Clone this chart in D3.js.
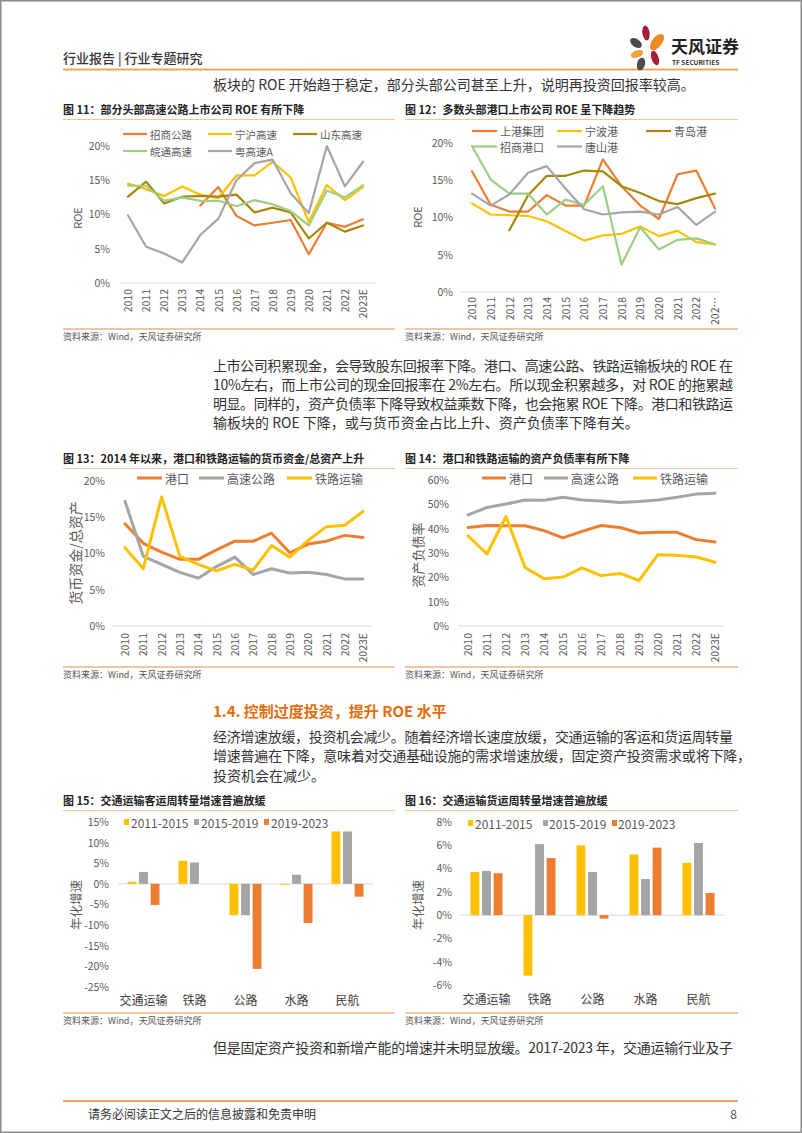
<!DOCTYPE html>
<html><head><meta charset="utf-8">
<script src="https://cdn.jsdelivr.net/npm/d3@7"></script>
<style>
html,body{margin:0;padding:0;background:#fff;}
svg{display:block;}
text{font-family:"Noto Sans CJK SC","Liberation Sans",sans-serif;}
</style></head><body>
<svg id="page" width="802" height="1133"></svg>
<script>
// ---------- DATA ----------
const years = ["2010","2011","2012","2013","2014","2015","2016","2017","2018","2019","2020","2021","2022","2023E"];
const years12Labels = ["2010","2011","2012","2013","2014","2015","2016","2017","2018","2019","2020","2021","2022","202…"];

const fig11Names = ["招商公路","宁沪高速","山东高速","皖通高速","粤高速A"];
const fig11_zsgl = [null,null,null,null,11.3,14.0,9.8,8.4,8.8,9.2,4.2,8.8,8.2,9.3];
const fig11_nhgs = [14.5,13.7,12.7,14.1,12.9,12.4,15.7,15.7,17.7,15.4,8.9,14.3,12.1,14.0];
const fig11_sdgs = [12.6,14.8,11.6,12.6,12.7,12.6,12.9,10.3,11.0,10.3,6.5,8.8,7.5,8.4];
const fig11_wtgs = [14.2,14.2,12.0,12.5,12.0,12.0,11.2,12.1,11.5,10.5,8.4,13.5,12.5,14.3];
const fig11_ygsa = [9.9,5.3,4.3,3.0,7.0,9.4,15.0,17.5,18.0,13.1,10.2,20.0,14.1,17.7];

const fig12Names = ["上港集团","宁波港","青岛港","招商港口","唐山港"];
const fig12_sgjt = [16.2,11.7,10.8,10.8,13.0,11.6,11.6,17.8,14.2,11.6,9.8,15.8,16.3,11.2];
const fig12_nbg  = [11.9,10.4,10.3,10.2,9.5,8.2,6.9,7.6,7.8,8.8,7.5,8.2,6.7,6.4];
const fig12_qdg  = [null,null,8.3,13.0,15.6,15.6,16.3,16.2,14.2,13.3,12.2,11.8,12.6,13.2];
const fig12_zsgk = [19.6,15.1,13.2,13.2,10.4,12.4,11.7,14.2,3.7,8.7,5.7,7.0,7.2,6.4];
const fig12_tsg  = [13.2,11.6,13.1,16.0,16.9,13.9,11.1,10.4,10.7,10.8,10.4,11.4,9.0,10.8];

const fig13Names = ["港口","高速公路","铁路运输"];
const fig13_gk   = [14.1,11.4,10.2,9.2,9.2,10.5,11.7,11.7,12.8,10.1,11.3,11.7,12.5,12.2];
const fig13_gsgl = [17.2,9.6,8.5,7.4,6.6,8.2,9.5,7.1,7.9,7.3,7.4,7.1,6.5,6.5];
const fig13_tlys = [10.8,7.9,17.8,9.6,8.5,7.6,8.5,7.7,11.1,9.5,11.8,13.7,13.9,15.8];

const fig14Names = ["港口","高速公路","铁路运输"];
const fig14_gk   = [40.5,41.3,41.2,41.2,39.2,36.2,38.9,41.3,40.5,38.2,38.5,38.5,35.5,34.5];
const fig14_gsgl = [45.7,48.7,50.1,51.8,51.7,52.9,51.8,51.4,50.8,51.2,51.8,52.9,54.2,54.6];
const fig14_tlys = [37.1,29.6,45.0,24.1,19.4,20.1,23.9,20.7,21.6,18.7,29.3,29.1,28.4,26.2];

const modes = ["交通运输","铁路","公路","水路","民航"];
const periods = ["2011-2015","2015-2019","2019-2023"];
const fig15_p1 = [0.5,5.6,-7.6,-0.2,12.7];
const fig15_p2 = [2.9,5.2,-7.6,2.2,12.7];
const fig15_p3 = [-5.1,0,-20.6,-9.5,-3.1];
const fig16_p1 = [3.7,-5.2,6.0,5.2,4.5];
const fig16_p2 = [3.8,6.1,3.7,3.1,6.2];
const fig16_p3 = [3.6,4.9,-0.3,5.8,1.9];

const ticks11 = [0,5,10,15,20];
const ticks14 = [0,10,20,30,40,50,60];
const ticks15 = [-25,-20,-15,-10,-5,0,5,10,15];
const ticks16 = [-6,-4,-2,0,2,4,6,8];

// ---------- STYLE ----------
const C = {orange:"#ED7D31", yellow:"#FFC000", gray:"#A5A5A5", gold:"#A8860E", green:"#9CCF83"};
const textCol = "#333333", tickCol = "#595959";
const svg = d3.select("#page");

function txt(x, y, s, o = {}) {
  const t = svg.append("text").attr("x", x).attr("y", y)
    .attr("dominant-baseline", "central")
    .attr("font-size", o.size || 14)
    .attr("fill", o.fill || textCol)
    .attr("font-weight", o.weight || 400)
    .attr("text-anchor", o.anchor || "start")
    .text(s);
  if (o.family) t.attr("font-family", o.family);
  if (o.len) t.attr("textLength", o.len).attr("lengthAdjust", "spacing");
  if (o.ls) t.attr("letter-spacing", o.ls);
  return t;
}
function hline(x1, x2, y, col, w) {
  svg.append("line").attr("x1", x1).attr("x2", x2).attr("y1", y).attr("y2", y)
    .attr("stroke", col).attr("stroke-width", w);
}

// page frame
svg.append("rect").attr("x", 0.75).attr("y", 0.75).attr("width", 800.5).attr("height", 1131.5)
  .attr("fill", "none").attr("stroke", "#8a8a8a").attr("stroke-width", 1.5);

// ---------- HEADER ----------
txt(63, 57, "行业报告 | 行业专题研究", {size: 13, weight: 500, fill: "#333"});
hline(63, 738, 69.5, "#EDA55C", 2);
// logo petals
const petals = [
  {cx:646, cy:33, rx:3.6, ry:7.5, r:-8, c:"#A31F37"},
  {cx:657, cy:42, rx:5, ry:9.5, r:38, c:"#EE8A1F"},
  {cx:636, cy:43, rx:4, ry:6.5, r:-55, c:"#4A4A4A"},
  {cx:637, cy:54, rx:3.5, ry:6.5, r:70, c:"#F2A23A"},
  {cx:655, cy:58, rx:3.6, ry:7.5, r:-18, c:"#A31F37"},
  {cx:641, cy:64, rx:4, ry:6.5, r:15, c:"#4A4A4A"}
];
svg.append("g").selectAll("ellipse").data(petals).join("ellipse")
  .attr("cx", d => d.cx).attr("cy", d => d.cy).attr("rx", d => d.rx).attr("ry", d => d.ry)
  .attr("transform", d => `rotate(${d.r},${d.cx},${d.cy})`).attr("fill", d => d.c);
txt(671, 45, "天风证券", {size: 17, weight: 700, fill: "#222"});
txt(672, 62, "TF SECURITIES", {size: 6.5, weight: 700, fill: "#333", family: "Liberation Sans"});

txt(213, 84, "板块的 ROE 开始趋于稳定，部分头部公司甚至上升，说明再投资回报率较高。", {size: 14});

// ---------- CHART HELPERS ----------
function figFrame(x0, x1, yTitle, title, ySrcLine) {
  txt(x0, yTitle, title, {size: 11, weight: 700, fill: "#222"});
  hline(x0, x1, yTitle + 10.5, "#F6C29A", 1);
  hline(x0, x1, ySrcLine, "#F4B183", 1.5);
  txt(x0, ySrcLine + 7.5, "资料来源：Wind，天风证券研究所", {size: 9, fill: "#555"});
}

function lineChart(cfg) {
  const g = svg.append("g");
  const x = d3.scalePoint().domain(d3.range(cfg.labels.length)).range(cfg.xr);
  const y = d3.scaleLinear().domain(cfg.yd).range(cfg.yr);
  g.append("line").attr("x1", cfg.ax[0]).attr("x2", cfg.ax[1]).attr("y1", y(0)).attr("y2", y(0))
    .attr("stroke", "#D9D9D9").attr("stroke-width", 1);
  const ya = d3.axisLeft(y).tickValues(cfg.ticks).tickSize(0).tickPadding(0).tickFormat(d => d + "%");
  g.append("g").attr("transform", `translate(${cfg.tx},0)`).call(ya)
    .call(s => s.select(".domain").remove())
    .selectAll("text").attr("font-family", "Liberation Sans, Arial, sans-serif")
    .attr("font-size", cfg.tickSize || 10.5).attr("fill", tickCol);
  const xa = d3.axisBottom(x).tickSize(0).tickFormat(i => cfg.labels[i]);
  g.append("g").attr("transform", `translate(0,${cfg.xly})`).call(xa)
    .call(s => s.select(".domain").remove())
    .selectAll("text").attr("transform", "rotate(-90)").attr("text-anchor", "end")
    .attr("x", 0).attr("y", 0).attr("dy", "0.35em")
    .attr("font-family", "Liberation Sans, Arial, sans-serif")
    .attr("font-size", cfg.tickSize || 10.5).attr("fill", tickCol);
  const line = d3.line().defined(d => d[1] != null).x(d => x(d[0])).y(d => y(d[1]));
  cfg.series.forEach(s => {
    g.append("path").datum(s.values.map((v, i) => [i, v])).attr("d", line)
      .attr("fill", "none").attr("stroke", s.color).attr("stroke-width", cfg.lw)
      .attr("stroke-linejoin", "round").attr("stroke-linecap", "round");
  });
  cfg.series.forEach((s, i) => {
    const L = cfg.legend[i];
    g.append("line").attr("x1", L.x).attr("x2", L.x + cfg.legLen).attr("y1", L.y).attr("y2", L.y)
      .attr("stroke", s.color).attr("stroke-width", cfg.lw);
    g.append("text").attr("x", L.x + cfg.legLen + 3).attr("y", L.y).attr("dominant-baseline", "central")
      .attr("font-size", cfg.legSize).attr("fill", tickCol).text(s.name);
  });
  g.append("text").attr("transform", `translate(${cfg.ylab.x},${cfg.ylab.y}) rotate(-90)`)
    .attr("text-anchor", "middle").attr("dominant-baseline", "central")
    .attr("font-size", cfg.ylab.size).attr("fill", tickCol).text(cfg.ylab.text);
}

function barChart(cfg) {
  const g = svg.append("g");
  const x = d3.scaleBand().domain(cfg.cats).range(cfg.xr).padding(0);
  const inner = d3.scaleBand().domain(cfg.series.map(s => s.name)).range([-16, 16]).paddingInner(0.23);
  const y = d3.scaleLinear().domain(cfg.yd).range(cfg.yr);
  g.append("line").attr("x1", cfg.xr[0]).attr("x2", cfg.xr[1]).attr("y1", y(0)).attr("y2", y(0))
    .attr("stroke", "#D9D9D9").attr("stroke-width", 1);
  const ya = d3.axisLeft(y).tickValues(cfg.ticks).tickSize(0).tickPadding(0).tickFormat(d => d + "%");
  g.append("g").attr("transform", `translate(${cfg.tx},0)`).call(ya)
    .call(s => s.select(".domain").remove())
    .selectAll("text").attr("font-family", "Liberation Sans, Arial, sans-serif")
    .attr("font-size", 10.5).attr("fill", tickCol);
  cfg.series.forEach(s => {
    g.append("g").selectAll("rect").data(s.values.map((v, i) => ({c: cfg.cats[i], v}))).join("rect")
      .attr("x", d => x(d.c) + x.bandwidth() / 2 + inner(s.name))
      .attr("width", inner.bandwidth())
      .attr("y", d => y(Math.max(0, d.v)))
      .attr("height", d => Math.abs(y(d.v) - y(0)))
      .attr("fill", s.color);
  });
  const xa = d3.axisBottom(x).tickSize(0).tickPadding(0);
  g.append("g").attr("transform", `translate(0,${cfg.catY})`).call(xa)
    .call(s => s.select(".domain").remove())
    .selectAll("text").attr("dy", "0.35em").attr("font-size", 12).attr("fill", "#404040")
    .attr("font-family", "Noto Sans CJK SC, sans-serif");
  cfg.series.forEach((s, i) => {
    const L = cfg.legend[i];
    g.append("rect").attr("x", L.sx).attr("y", cfg.legY - 3).attr("width", 5).attr("height", 6).attr("fill", s.color);
    g.append("text").attr("x", L.tx).attr("y", cfg.legY).attr("dominant-baseline", "central")
      .attr("font-family", "Liberation Sans, Arial, sans-serif")
      .attr("font-size", 12).attr("fill", tickCol).text(s.name);
  });
  g.append("text").attr("transform", `translate(${cfg.ylab.x},${cfg.ylab.y}) rotate(-90)`)
    .attr("text-anchor", "middle").attr("dominant-baseline", "central")
    .attr("font-size", cfg.ylab.size).attr("fill", tickCol).text(cfg.ylab.text);
}

// ---------- FIG 11 / 12 ----------
figFrame(63, 395, 109, "图 11：部分头部高速公路上市公司 ROE 有所下降", 329);
figFrame(405, 738, 109, "图 12：多数头部港口上市公司 ROE 呈下降趋势", 329);

lineChart({
  labels: years, xr: [128, 363], ax: [120, 375], yd: [0, 20], yr: [283, 146],
  ticks: ticks11, tx: 110, xly: 289, lw: 2.2, legLen: 24, legSize: 10.5,
  series: [
    {name: fig11Names[0], color: C.orange, values: fig11_zsgl},
    {name: fig11Names[1], color: C.yellow, values: fig11_nhgs},
    {name: fig11Names[2], color: C.gold, values: fig11_sdgs},
    {name: fig11Names[3], color: C.green, values: fig11_wtgs},
    {name: fig11Names[4], color: C.gray, values: fig11_ygsa}
  ],
  legend: [{x:123,y:134},{x:208,y:134},{x:293,y:134},{x:123,y:151},{x:208,y:151}],
  ylab: {text: "ROE", x: 77, y: 218, size: 11}
});

lineChart({
  labels: years12Labels, xr: [472, 715], ax: [460, 720], yd: [0, 20], yr: [292, 143],
  ticks: ticks11, tx: 453, xly: 297, lw: 2.2, legLen: 25, legSize: 11,
  series: [
    {name: fig12Names[0], color: C.orange, values: fig12_sgjt},
    {name: fig12Names[1], color: C.yellow, values: fig12_nbg},
    {name: fig12Names[2], color: C.gold, values: fig12_qdg},
    {name: fig12Names[3], color: C.green, values: fig12_zsgk},
    {name: fig12Names[4], color: C.gray, values: fig12_tsg}
  ],
  legend: [{x:472,y:131},{x:557,y:131},{x:646,y:131},{x:472,y:146.5},{x:557,y:146.5}],
  ylab: {text: "ROE", x: 417, y: 217, size: 11}
});

// ---------- PARAGRAPH 2 ----------
txt(213, 365, "上市公司积累现金，会导致股东回报率下降。港口、高速公路、铁路运输板块的 ROE 在", {size: 14, len: 520});
txt(213, 384, "10%左右，而上市公司的现金回报率在 2%左右。所以现金积累越多，对 ROE 的拖累越", {size: 14, len: 520});
txt(213, 403, "明显。同样的，资产负债率下降导致权益乘数下降，也会拖累 ROE 下降。港口和铁路运", {size: 14, len: 520});
txt(213, 422, "输板块的 ROE 下降，或与货币资金占比上升、资产负债率下降有关。", {size: 14});

// ---------- FIG 13 / 14 ----------
figFrame(63, 395, 458, "图 13：2014 年以来，港口和铁路运输的货币资金/总资产上升", 667);
figFrame(405, 738, 458, "图 14：港口和铁路运输的资产负债率有所下降", 667);

lineChart({
  labels: years, xr: [125, 363], ax: [113, 372], yd: [0, 20], yr: [626, 481],
  ticks: ticks11, tx: 105, xly: 633, lw: 3, legLen: 25, legSize: 12,
  series: [
    {name: fig13Names[0], color: C.orange, values: fig13_gk},
    {name: fig13Names[1], color: C.gray, values: fig13_gsgl},
    {name: fig13Names[2], color: C.yellow, values: fig13_tlys}
  ],
  legend: [{x:137,y:478},{x:199,y:478},{x:287,y:478}],
  ylab: {text: "货币资金/总资产", x: 75, y: 553, size: 14}
});

lineChart({
  labels: years, xr: [468, 715], ax: [458, 724], yd: [0, 60], yr: [626, 480],
  ticks: ticks14, tx: 449, xly: 633, lw: 3, legLen: 24, legSize: 12,
  series: [
    {name: fig14Names[0], color: C.orange, values: fig14_gk},
    {name: fig14Names[1], color: C.gray, values: fig14_gsgl},
    {name: fig14Names[2], color: C.yellow, values: fig14_tlys}
  ],
  legend: [{x:482,y:478},{x:544,y:478},{x:633,y:478}],
  ylab: {text: "资产负债率", x: 417, y: 555, size: 13}
});

// ---------- SECTION 1.4 ----------
txt(213, 710, "1.4. 控制过度投资，提升 ROE 水平", {size: 15, weight: 700, fill: "#E46C0A"});
txt(213, 736, "经济增速放缓，投资机会减少。随着经济增长速度放缓，交通运输的客运和货运周转量", {size: 14, len: 520});
txt(213, 755, "增速普遍在下降，意味着对交通基础设施的需求增速放缓，固定资产投资需求或将下降，", {size: 14, len: 538});
txt(213, 775, "投资机会在减少。", {size: 14});

// ---------- FIG 15 / 16 ----------
figFrame(63, 395, 800, "图 15：交通运输客运周转量增速普遍放缓", 1013);
figFrame(405, 738, 800, "图 16：交通运输货运周转量增速普遍放缓", 1013);

barChart({
  cats: modes, xr: [118, 373], yd: [-25, 15], yr: [987, 822], ticks: ticks15, tx: 109, catY: 1001,
  series: [
    {name: periods[0], color: C.yellow, values: fig15_p1},
    {name: periods[1], color: C.gray, values: fig15_p2},
    {name: periods[2], color: C.orange, values: fig15_p3}
  ],
  legY: 822, legend: [{sx:124, tx:131},{sx:194, tx:201},{sx:264, tx:271}],
  ylab: {text: "年化增速", x: 75, y: 905, size: 12.5}
});

barChart({
  cats: modes, xr: [460, 725], yd: [-6, 8], yr: [985, 822], ticks: ticks16, tx: 452, catY: 1000,
  series: [
    {name: periods[0], color: C.yellow, values: fig16_p1},
    {name: periods[1], color: C.gray, values: fig16_p2},
    {name: periods[2], color: C.orange, values: fig16_p3}
  ],
  legY: 823, legend: [{sx:468, tx:475},{sx:543, tx:549},{sx:612, tx:618}],
  ylab: {text: "年化增速", x: 417, y: 905, size: 12.5}
});

// ---------- TAIL ----------
txt(213, 1047, "但是固定资产投资和新增产能的增速并未明显放缓。2017-2023 年，交通运输行业及子", {size: 14, len: 520});
hline(63, 738, 1101, "#EDA55C", 2);
txt(88, 1113, "请务必阅读正文之后的信息披露和免责申明", {size: 12, fill: "#333"});
txt(737, 1113, "8", {size: 12, fill: "#555", anchor: "end", family: "Liberation Sans"});
</script></body></html>
